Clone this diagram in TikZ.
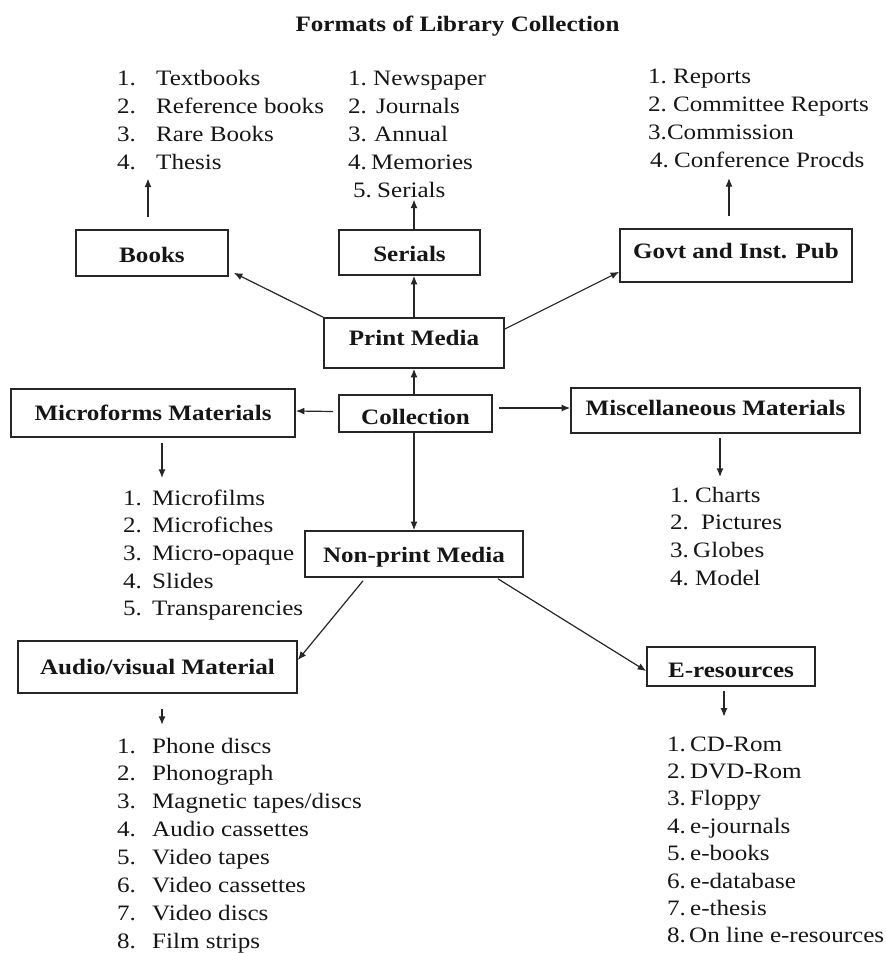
\documentclass[tikz,border=0pt]{standalone}
\usepackage{fontspec}
\setmainfont{Liberation Serif}[FakeStretch=1.14]
\usetikzlibrary{arrows.meta}

\definecolor{ink}{HTML}{161616}
\definecolor{rule}{HTML}{262626}

% fixed-width slot for the item number
\newcommand\nb[2]{\makebox[#1][l]{#2}}

\tikzset{
  box/.style={draw=rule, line width=1.7pt, inner sep=0pt, text=ink,
              font=\bfseries\fontsize{22}{28}\selectfont, text depth=0pt},
  lst/.style={inner sep=0pt, anchor=base west, text=ink,
              font=\fontsize{22}{#1}\selectfont},
  arr/.style={draw=rule, line width=1.2pt, -{Latex[length=8.5pt,width=7pt]}},
}

\begin{document}
\begin{tikzpicture}[x=1pt, y=-1pt]
  \useasboundingbox (0,0) rectangle (886,953);
  \fill[white] (0,0) rectangle (886,953);

  % title
  \node[inner sep=0pt, anchor=base, text=ink, font=\bfseries\fontsize{22}{28}\selectfont]
    (title) at (457.5,31) {Formats of Library Collection};

  % boxes
  \node[box, minimum width=152pt, minimum height=46pt, text height=18.5pt] (books)    at (152,253)     {Books};
  \node[box, minimum width=141pt, minimum height=45pt, text height=17.5pt] (serials)  at (409.5,252.5) {Serials};
  \node[box, minimum width=232pt, minimum height=53pt, text height=6.5pt]  (govt)     at (736,255.5)   {Govt and Inst. Pub};
  \node[box, minimum width=180pt, minimum height=50pt, text height=4.5pt]  (print)    at (414,343)     {Print Media};
  \node[box, minimum width=153pt, minimum height=37pt, text height=21.5pt] (coll)     at (415.5,413.5) {Collection};
  \node[box, minimum width=284pt, minimum height=48pt, text height=14.5pt] (micro)    at (153,413)     {Microforms Materials};
  \node[box, minimum width=289pt, minimum height=45pt, text height=10.5pt] (misc)     at (715.5,410.5) {Miscellaneous Materials};
  \node[box, minimum width=218pt, minimum height=46pt, text height=16.5pt] (nonprint) at (414,554)     {Non-print Media};
  \node[box, minimum width=279pt, minimum height=52pt, text height=14.5pt] (audio)    at (157.5,667)   {Audio/visual Material};
  \node[box, minimum width=168pt, minimum height=39pt, text height=21.5pt] (eres)     at (731,666.5)   {E-resources};

  % item lists
  \node[lst=28.3] (booksl) at (117,85) {\begin{tabular}[t]{@{}l@{}}
    \nb{39pt}{1.}Textbooks\\
    \nb{39pt}{2.}Reference books\\
    \nb{39pt}{3.}Rare Books\\
    \nb{39pt}{4.}Thesis\end{tabular}};

  \node[lst=28] (serialsl) at (348,85) {\begin{tabular}[t]{@{}l@{}}
    \nb{25pt}{1.}Newspaper\\
    \nb{28pt}{2.}Journals\\
    \nb{26pt}{3.}Annual\\
    \nb{23pt}{4.}Memories\\
    \hspace{5pt}\nb{24pt}{5.}Serials\end{tabular}};

  \node[lst=28] (govtl) at (648,83) {\begin{tabular}[t]{@{}l@{}}
    \nb{25pt}{1.}Reports\\
    \nb{25pt}{2.}Committee Reports\\
    3.Commission\\
    \hspace{2pt}\nb{24pt}{4.}Conference Procds\end{tabular}};

  \node[lst=27.7] (microl) at (123,505) {\begin{tabular}[t]{@{}l@{}}
    \nb{29pt}{1.}Microfilms\\
    \nb{29pt}{2.}Microfiches\\
    \nb{29pt}{3.}Micro-opaque\\
    \nb{29pt}{4.}Slides\\
    \nb{29pt}{5.}Transparencies\end{tabular}};

  \node[lst=27.7] (miscl) at (670,502) {\begin{tabular}[t]{@{}l@{}}
    \nb{25pt}{1.}Charts\\
    \nb{31pt}{2.}Pictures\\
    \nb{23pt}{3.}Globes\\
    \nb{25pt}{4.}Model\end{tabular}};

  \node[lst=27.9] (audiol) at (117,753) {\begin{tabular}[t]{@{}l@{}}
    \nb{35pt}{1.}Phone discs\\
    \nb{35pt}{2.}Phonograph\\
    \nb{35pt}{3.}Magnetic tapes/discs\\
    \nb{35pt}{4.}Audio cassettes\\
    \nb{35pt}{5.}Video tapes\\
    \nb{35pt}{6.}Video cassettes\\
    \nb{35pt}{7.}Video discs\\
    \nb{35pt}{8.}Film strips\end{tabular}};

  \node[lst=27.4] (eresl) at (667,751) {\begin{tabular}[t]{@{}l@{}}
    \nb{23pt}{1.}CD-Rom\\
    \nb{23pt}{2.}DVD-Rom\\
    \nb{23pt}{3.}Floppy\\
    \nb{23pt}{4.}e-journals\\
    \nb{23pt}{5.}e-books\\
    \nb{23pt}{6.}e-database\\
    \nb{23pt}{7.}e-thesis\\
    \nb{22pt}{8.}On line e-resources\end{tabular}};

  % print media branch
  \draw[arr] ([xshift=-4pt,yshift=12pt]books.north) -- ([xshift=-4pt]books.north |- booksl.south);
  \draw[arr] ([xshift=4.5pt]serials.north) -- ([xshift=4.5pt,yshift=6pt]serials.north |- serialsl.south);
  \draw[arr] ([xshift=-7pt,yshift=12pt]govt.north) -- ([xshift=-7pt,yshift=-2.5pt]govt.north |- govtl.south);
  \draw[arr] (print.north west) -- ([xshift=5pt,yshift=4pt]books.south east);
  \draw[arr] (print.north) -- (print.north |- serials.south);
  \draw[arr] ([yshift=14pt]print.east) -- ([yshift=11pt]govt.south west);

  % collection hub
  \draw[arr] (coll.north -| print.south) -- (print.south);
  \draw[arr] ([xshift=-5pt,yshift=2pt]coll.west) -- ([yshift=2pt]micro.east);
  \draw[arr] ([xshift=6pt,yshift=2.5pt]coll.east |- misc.west) -- ([yshift=2.5pt]misc.west);
  \draw[arr] (coll.south -| nonprint.north) -- (nonprint.north);
  \draw[arr] ([xshift=9pt,yshift=-5pt]micro.south) -- ([xshift=9pt,yshift=7.5pt]micro.south |- microl.north);
  \draw[arr] ([xshift=4.5pt,yshift=-4pt]misc.south) -- ([xshift=4.5pt,yshift=5.5pt]misc.south |- miscl.north);

  % non-print branch
  \draw[arr] ([xshift=-51pt,yshift=-3pt]nonprint.south) -- ([yshift=7pt]audio.east);
  \draw[arr] ([xshift=84pt,yshift=-1pt]nonprint.south) -- ([yshift=-4.5pt]eres.west);
  \draw[arr] ([xshift=4.5pt,yshift=-15pt]audio.south) -- ([xshift=4.5pt,yshift=8.5pt]audio.south |- audiol.north);
  \draw[arr] ([xshift=-7pt,yshift=-4pt]eres.south) -- ([xshift=-7pt,yshift=15pt]eres.south |- eresl.north);
\end{tikzpicture}
\end{document}
